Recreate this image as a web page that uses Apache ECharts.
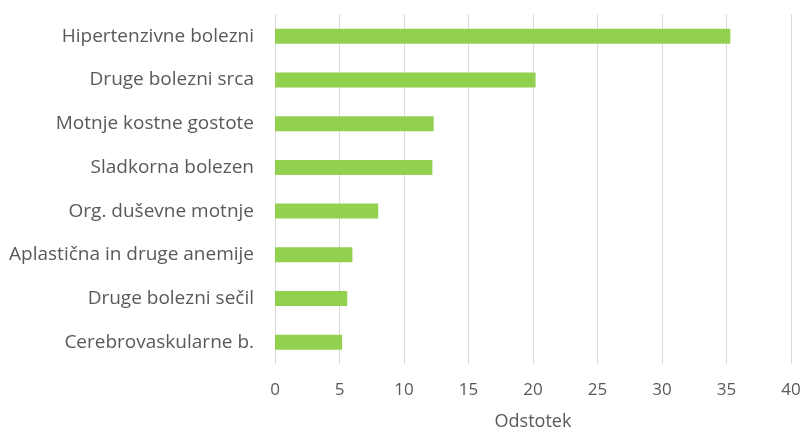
<!DOCTYPE html>
<html>
<head>
<meta charset="utf-8">
<script src="https://cdn.jsdelivr.net/npm/echarts@6/dist/echarts.min.js"></script>
<style>
  html, body { margin: 0; padding: 0; background: #fff; }
  #chart { width: 802px; height: 431px; }
</style>
</head>
<body>
<div id="chart"></div>
<script>
// categories top to bottom as in the picture
const categories = [
  'Hipertenzivne bolezni',
  'Druge bolezni srca',
  'Motnje kostne gostote',
  'Sladkorna bolezen',
  'Org. duševne motnje',
  'Aplastična in druge anemije',
  'Druge bolezni sečil',
  'Cerebrovaskularne b.'
];
const values = [35.3, 20.2, 12.3, 12.2, 8.0, 6.0, 5.6, 5.2];
const axisName = 'Odstotek';

const myChart = echarts.init(document.getElementById('chart'));
const textColor = '#595959';
const font = '"Open Sans", "Noto Sans", sans-serif';

const option = {
  animation: false,
  grid: {
    left: 275,
    right: 11,
    top: 14.5,
    bottom: 67,
    containLabel: false,
    outerBoundsMode: 'none'
  },
  xAxis: {
    type: 'value',
    min: 0,
    max: 40,
    interval: 5,
    name: axisName,
    nameLocation: 'middle',
    nameGap: 49,
    nameTextStyle: { color: textColor, fontSize: 18, fontFamily: font },
    axisLine: { show: false },
    axisTick: { show: false },
    axisLabel: { color: textColor, fontSize: 17, fontFamily: font, margin: 18 },
    splitLine: { show: true, lineStyle: { color: '#d9d9d9', width: 1 } }
  },
  yAxis: {
    type: 'category',
    inverse: true,
    data: categories,
    axisLine: { show: false },
    axisTick: { show: false },
    axisLabel: { color: textColor, fontSize: 19, fontFamily: font, margin: 21 }
  },
  series: [
    {
      type: 'bar',
      data: values,
      barWidth: 15,
      itemStyle: { color: '#92d050' }
    }
  ]
};

myChart.setOption(option);
</script>
</body>
</html>
